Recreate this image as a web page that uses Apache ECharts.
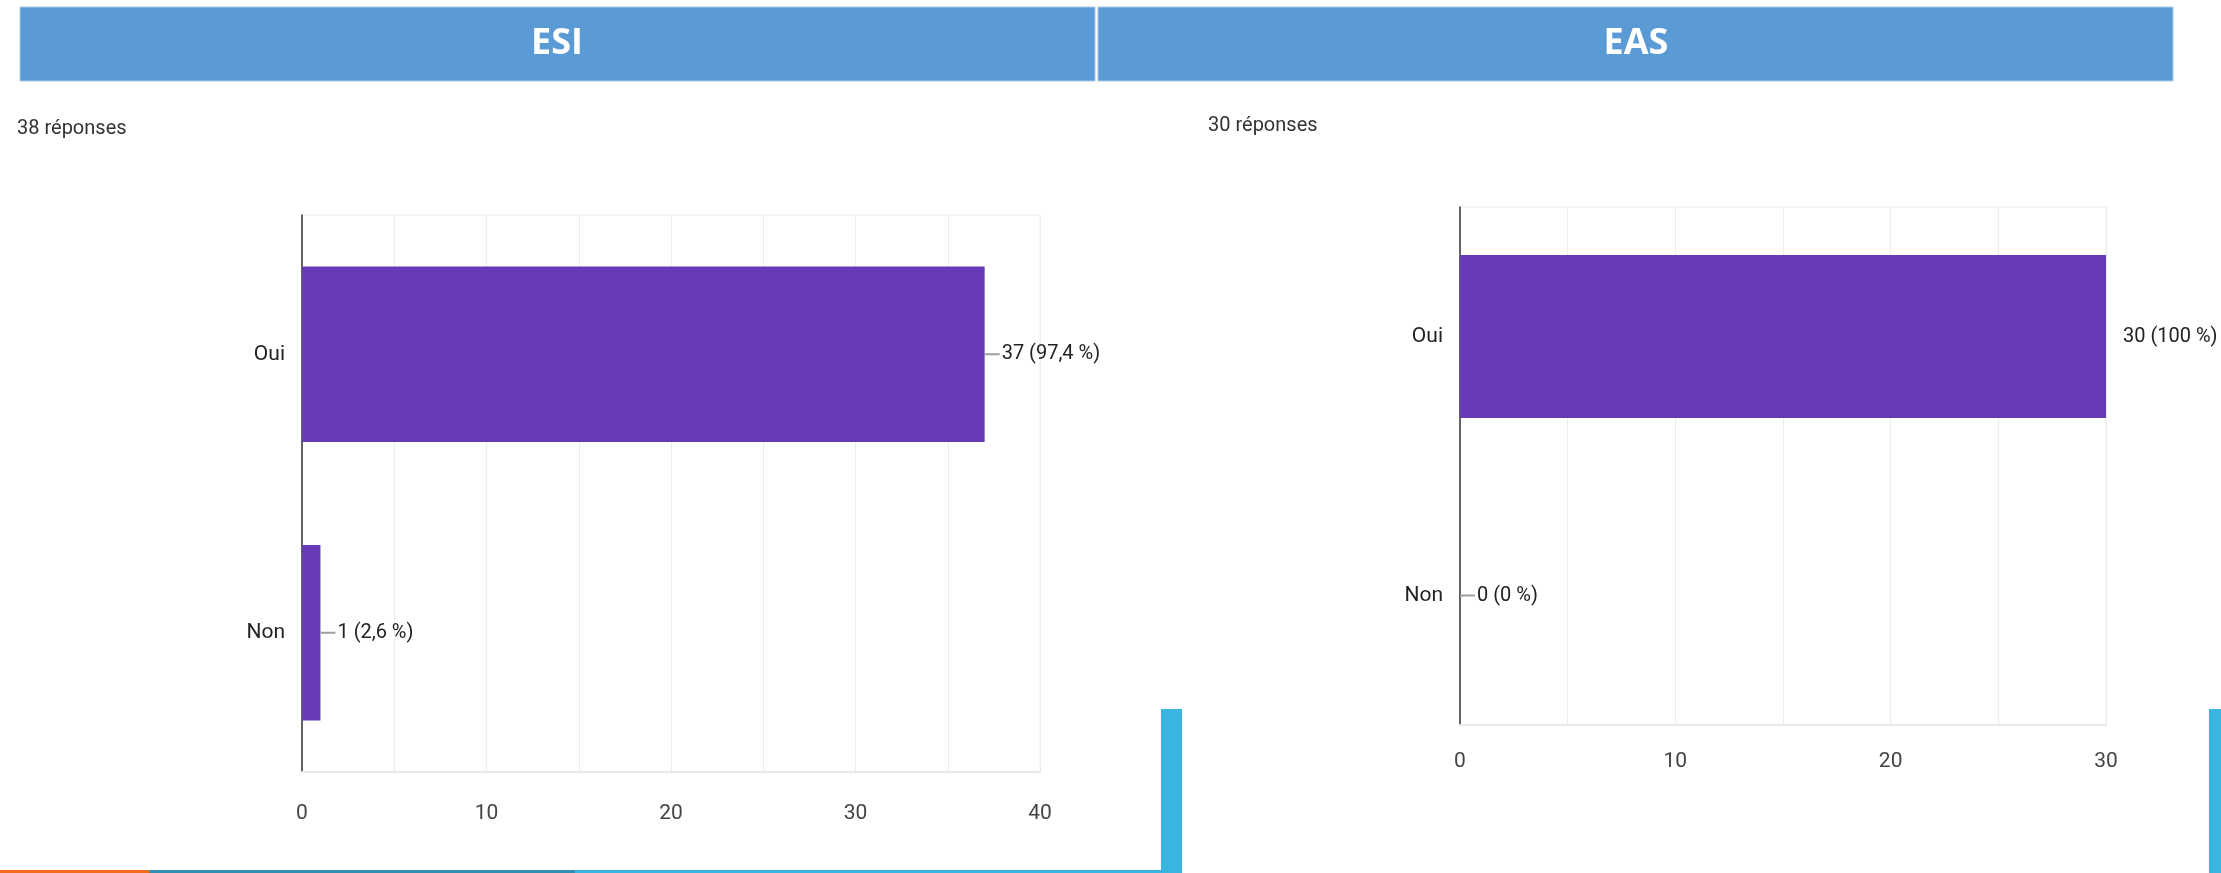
<!DOCTYPE html>
<html lang="fr">

<head>
    <meta charset="UTF-8">
    <title>ESI / EAS</title>
    <script src="https://cdn.jsdelivr.net/npm/echarts@6/dist/echarts.min.js"></script>
    <style>
        body {
            margin: 0;
            background-color: #fff;
        }
        #main {
            width: 2221px;
            height: 873px;
        }
    </style>
</head>

<body>
    <div id="main"></div>
    <script type="text/javascript">
        // données
        var categories = ['Oui', 'Non'];
        var groupNames = ['ESI', 'EAS'];
        var esiValues = [37, 1];
        var easValues = [30, 0];
        var esiTicks = [0, 10, 20, 30, 40];
        var easTicks = [0, 10, 20, 30];

        var font = 'Roboto, "Liberation Sans", sans-serif';

        function sum(arr) {
            return arr.reduce(function (a, b) { return a + b }, 0);
        }

        // "37 (97,4 %)" avec un petit trait devant
        function pctLabel(values, axisMax) {
            var total = sum(values);
            return function (p) {
                var pct = total ? Number((p.value / total * 100).toFixed(1)) : 0;
                var lead = p.value === axisMax ? '{n| }' : '{l| }';
                return lead + '{t|' + p.value + ' (' + String(pct).replace('.', ',') + ' %)}';
            }
        }

        function valueAxis(gridIndex, ticks, margin) {
            return {
                type: 'value',
                gridIndex: gridIndex,
                min: 0,
                max: ticks[ticks.length - 1],
                interval: 5,
                axisLine: { show: true, lineStyle: { color: '#e8e8e8', width: 2 } },
                axisTick: { show: false },
                splitLine: { lineStyle: { color: '#ececec', width: 1 } },
                axisLabel: {
                    margin: margin,
                    fontFamily: font,
                    fontSize: 21,
                    color: '#444',
                    formatter: function (v) { return ticks.indexOf(v) >= 0 ? v : '' }
                }
            }
        }

        function categoryAxis(gridIndex) {
            return {
                type: 'category',
                gridIndex: gridIndex,
                inverse: true,
                data: categories,
                axisLine: { show: true, lineStyle: { color: '#333', width: 1.5 } },
                axisTick: { show: false },
                axisLabel: {
                    margin: 17,
                    fontFamily: font,
                    fontSize: 21,
                    color: '#222'
                }
            }
        }

        function barSeries(index, values, axisMax) {
            return {
                type: 'bar',
                xAxisIndex: index,
                yAxisIndex: index,
                data: values,
                barCategoryGap: '37%',
                itemStyle: { color: '#673ab7' },
                label: {
                    show: true,
                    position: 'right',
                    distance: 0,
                    formatter: pctLabel(values, axisMax),
                    rich: {
                        l: { width: 15, height: 2, backgroundColor: '#9e9e9e' },
                        n: { width: 15, height: 2 },
                        t: { fontFamily: font, fontSize: 20, color: '#222', padding: [0, 0, 0, 2] }
                    }
                }
            }
        }

        var myChart = echarts.init(document.getElementById('main'));

        var titleStyle = { fontFamily: font, fontSize: 20, fontWeight: 'normal', color: '#333' };

        var option = {
            animation: false,
            title: [
                { text: '38 réponses', left: 17, top: 119, padding: 0, textStyle: titleStyle },
                { text: '30 réponses', left: 1208, top: 116, padding: 0, textStyle: titleStyle }
            ],
            graphic: [
                { type: 'rect', shape: { x: 20, y: 7, width: 1075, height: 74 }, style: { fill: '#5b9bd5', stroke: '#a9c9e8', lineWidth: 1 } },
                { type: 'rect', shape: { x: 1098, y: 7, width: 1075, height: 74 }, style: { fill: '#5b9bd5', stroke: '#a9c9e8', lineWidth: 1 } },
                { type: 'text', x: 557, y: 44, style: { text: groupNames[0], fill: '#fff', font: 'bold 36px "Open Sans", sans-serif', textAlign: 'center', textVerticalAlign: 'middle' } },
                { type: 'text', x: 1636, y: 44, style: { text: groupNames[1], fill: '#fff', font: 'bold 36px "Open Sans", sans-serif', textAlign: 'center', textVerticalAlign: 'middle' } },
                // bandeaux décoratifs en bas
                { type: 'rect', shape: { x: 0, y: 870, width: 149, height: 3 }, style: { fill: '#f26b1d' } },
                { type: 'rect', shape: { x: 149, y: 870, width: 426, height: 3 }, style: { fill: '#338fb0' } },
                { type: 'rect', shape: { x: 575, y: 870, width: 590, height: 3 }, style: { fill: '#3ab4e0' } },
                { type: 'rect', shape: { x: 1161, y: 709, width: 21, height: 164 }, style: { fill: '#3ab4e0' } },
                { type: 'rect', shape: { x: 2209, y: 709, width: 12, height: 164 }, style: { fill: '#3ab4e0' } }
            ],
            grid: [
                { left: 302, top: 215, width: 738, height: 557, show: true, borderColor: '#ececec', borderWidth: 1 },
                { left: 1460, top: 207, width: 646, height: 518, show: true, borderColor: '#ececec', borderWidth: 1 }
            ],
            xAxis: [valueAxis(0, esiTicks, 31), valueAxis(1, easTicks, 26)],
            yAxis: [categoryAxis(0), categoryAxis(1)],
            series: [
                barSeries(0, esiValues, esiTicks[esiTicks.length - 1]),
                barSeries(1, easValues, easTicks[easTicks.length - 1])
            ]
        };

        myChart.setOption(option);
    </script>
</body>

</html>
